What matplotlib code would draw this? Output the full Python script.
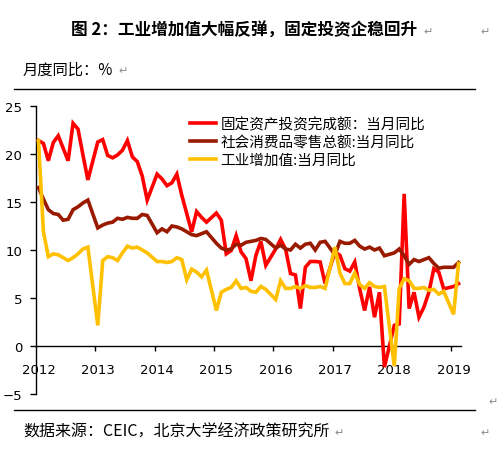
import numpy as np
import matplotlib
matplotlib.use('Agg')
import matplotlib.pyplot as plt
from matplotlib.lines import Line2D

plt.rcParams['font.family'] = ['Noto Sans CJK SC', 'DejaVu Sans']
plt.rcParams['axes.unicode_minus'] = True

nan = np.nan

# Monthly categories: Feb 2012 ... Mar 2019 (86 months); January values not published (nan)
year_labels = ['2012', '2013', '2014', '2015', '2016', '2017', '2018', '2019']

series_names = ['固定资产投资完成额：当月同比',
                '社会消费品零售总额:当月同比',
                '工业增加值:当月同比']

fai = [21.4, 21.1, 19.3, 21.2, 21.9, 20.6, 19.3, 23.2, 22.6, 19.9, 17.3,
       nan, 21.25, 21.5, 19.85, 19.6, 19.9, 20.4, 21.4, 19.7, 19.2, 17.7, 15.2,
       nan, 17.9, 17.4, 16.7, 17.0, 17.9, 15.7, 13.8, 11.9, 14.0, 13.4, 12.9,
       nan, 13.85, 13.1, 9.6, 9.95, 11.5, 9.8, 9.1, 6.8, 9.45, 10.9, 8.4,
       nan, 10.1, 11.1, 10.1, 7.55, 7.4, 3.9, 8.2, 8.8, 8.8, 8.75, 6.5,
       nan, 9.8, 9.45, 8.05, 7.8, 8.75, 5.95, 3.7, 6.15, 3.0, 5.6, -2.2,
       nan, 2.15, 2.3, 15.85, 3.9, 5.6, 3.0, 4.05, 5.6, 8.05, 7.7, 5.95,
       nan, 6.2, 6.5]

retail = [16.5, 15.3, 14.2, 13.8, 13.7, 13.1, 13.2, 14.2, 14.5, 14.9, 15.2,
          nan, 12.3, 12.6, 12.8, 12.9, 13.3, 13.2, 13.4, 13.3, 13.3, 13.7, 13.6,
          nan, 11.8, 12.2, 11.9, 12.5, 12.4, 12.2, 11.9, 11.6, 11.5, 11.7, 11.9,
          nan, 10.7, 10.2, 10.0, 10.1, 10.6, 10.5, 10.8, 10.9, 11.0, 11.2, 11.1,
          nan, 10.2, 10.5, 10.1, 10.0, 10.6, 10.2, 10.6, 10.7, 10.0, 10.8, 10.9,
          nan, 9.5, 10.9, 10.7, 10.7, 11.0, 10.4, 10.1, 10.3, 10.0, 10.2, 9.4,
          nan, 9.7, 10.1, 9.4, 8.5, 9.0, 8.8, 9.0, 9.2, 8.6, 8.1, 8.2,
          nan, 8.2, 8.7]

ind = [21.4, 11.9, 9.3, 9.6, 9.5, 9.2, 8.9, 9.2, 9.6, 10.1, 10.3,
       nan, 2.15, 8.9, 9.3, 9.2, 8.9, 9.7, 10.4, 10.2, 10.3, 10.0, 9.7,
       nan, 8.8, 8.8, 8.7, 8.8, 9.2, 9.0, 6.9, 8.0, 7.7, 7.2, 7.9,
       nan, 3.7, 5.6, 5.9, 6.1, 6.8, 6.0, 6.1, 5.7, 5.6, 6.2, 5.9,
       nan, 4.85, 6.8, 6.0, 6.0, 6.2, 6.0, 6.3, 6.1, 6.1, 6.2, 6.0,
       nan, 10.3, 7.6, 6.5, 6.5, 7.6, 6.4, 6.0, 6.6, 6.2, 6.1, 6.2,
       nan, -2.1, 6.0, 7.0, 6.8, 6.0, 6.0, 6.1, 5.8, 5.9, 5.4, 5.7,
       nan, 3.3, 8.6]

colors = ['#FF0000', '#9A1A00', '#FFC000']

W, H = 499, 464
fig = plt.figure(figsize=(W / 100, H / 100), dpi=100)
ax = fig.add_axes([36 / W, 1 - 395 / H, (461 - 36) / W, (395 - 107) / H])

x = np.arange(len(fai))
for vals, col, name, z in zip([fai, retail, ind], colors, series_names, [3, 4, 5]):
    v = np.array(vals, dtype=float)
    m = ~np.isnan(v)
    ax.plot(x[m], v[m], color=col, lw=2.6, label=name, zorder=z,
            solid_joinstyle='miter')

ax.set_xlim(-0.5, len(fai) - 0.5)
ax.set_ylim(-5, 25)
ax.spines['top'].set_visible(False)
ax.spines['right'].set_visible(False)
ax.spines['bottom'].set_position(('data', 0))
for s in ['left', 'bottom']:
    ax.spines[s].set_linewidth(1.0)

ax.set_yticks([-5, 0, 5, 10, 15, 20, 25])
ax.tick_params(axis='y', direction='out', length=4, width=1, pad=6, labelsize=9.5)

ax.set_xticks(np.arange(11.5, len(fai), 12))
ax.set_xticklabels([])
ax.set_xticks(np.arange(0, len(fai), 12), minor=True)
ax.set_xticklabels(year_labels, minor=True)
ax.tick_params(axis='x', which='major', direction='out', length=3.5, width=1)
ax.tick_params(axis='x', which='minor', length=0, pad=12, labelsize=9.5)
for lab in ax.get_yticklabels() + ax.get_xticklabels(minor=True):
    lab.set_fontfamily('DejaVu Sans')

leg = ax.legend(loc='upper left', bbox_to_anchor=(190 / W, 1 - 118 / H),
                bbox_transform=fig.transFigure, frameon=False, fontsize=10.5,
                handlelength=1.8, handletextpad=0.3, labelspacing=0.25,
                borderpad=0, borderaxespad=0)

# Header / footer text
fig.text(244 / W, 1 - 31 / H, '图 2：工业增加值大幅反弹，固定投资企稳回升',
         ha='center', va='center', fontsize=12, fontweight='bold')
fig.text(23 / W, 1 - 70 / H, '月度同比：%', ha='left', va='center',
         fontsize=11, style='italic')
fig.text(23 / W, 1 - 432 / H, '数据来源：CEIC，北京大学经济政策研究所',
         ha='left', va='center', fontsize=11.5)

# Word paragraph marks
for (px, py) in [(423, 32), (480, 32), (118, 71), (488, 402), (334, 433), (480, 433)]:
    fig.text(px / W, 1 - py / H, '↵', ha='left', va='center', fontsize=8,
             color='#8c8c8c', family='DejaVu Sans')

# horizontal rules
for py in [90, 411]:
    fig.add_artist(Line2D([14 / W, 475 / W], [1 - py / H, 1 - py / H],
                          transform=fig.transFigure, color='black', lw=1.0))

fig.savefig('out.png', dpi=100)
